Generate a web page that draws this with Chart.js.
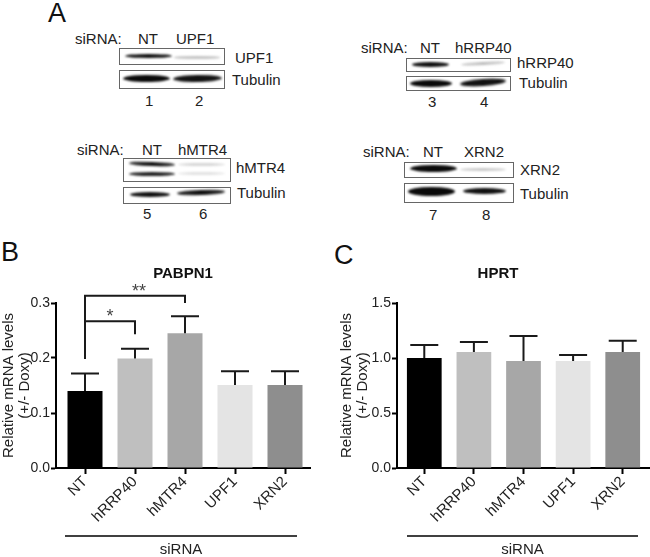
<!DOCTYPE html>
<html>
<head>
<meta charset="utf-8">
<script src="https://cdn.jsdelivr.net/npm/chart.js@4.4.0/dist/chart.umd.min.js"></script>
<style>
body { margin: 0; background: #fff; font-family: 'Liberation Sans', Arial, sans-serif; color: #222; }
#fig { position: relative; width: 650px; height: 557px; overflow: hidden; }
.t { position: absolute; white-space: nowrap; font-size: 15px; line-height: 15px; }
.big { position: absolute; font-size: 27px; line-height: 27px; color: #111; }
.box { position: absolute; border: 1px solid #666; background: #fff; box-sizing: border-box; }
.band { position: absolute; border-radius: 50%; filter: blur(0.8px); }
canvas { position: absolute; top: 255px; }
</style>
</head>
<body>
<div id="fig">
  <div class="big" style="left:48px;top:0px">A</div>
  <div class="big" style="left:1px;top:239px">B</div>
  <div class="big" style="left:334px;top:242px">C</div>

  <!-- blot 1 : UPF1 -->
  <div class="t" style="left:75px;top:31px">siRNA:</div>
  <div class="t" style="left:138px;top:31px">NT</div>
  <div class="t" style="left:176px;top:31px">UPF1</div>
  <div class="box" style="left:119px;top:48px;width:106px;height:17px"></div>
  <div class="box" style="left:119px;top:70px;width:106px;height:19px"></div>
  <div class="t" style="left:235px;top:50px">UPF1</div>
  <div class="t" style="left:232px;top:72px">Tubulin</div>
  <div class="t" style="left:145px;top:93px">1</div>
  <div class="t" style="left:195px;top:93px">2</div>

  <!-- blot 2 : hRRP40 -->
  <div class="t" style="left:361px;top:40px">siRNA:</div>
  <div class="t" style="left:420px;top:40px">NT</div>
  <div class="t" style="left:455px;top:40px">hRRP40</div>
  <div class="box" style="left:406px;top:58px;width:105px;height:14px"></div>
  <div class="box" style="left:406px;top:76px;width:105px;height:15px"></div>
  <div class="t" style="left:517px;top:55px">hRRP40</div>
  <div class="t" style="left:519px;top:75px">Tubulin</div>
  <div class="t" style="left:428px;top:94px">3</div>
  <div class="t" style="left:480px;top:94px">4</div>

  <!-- blot 3 : hMTR4 -->
  <div class="t" style="left:77px;top:142px">siRNA:</div>
  <div class="t" style="left:142px;top:142px">NT</div>
  <div class="t" style="left:178px;top:142px">hMTR4</div>
  <div class="box" style="left:123px;top:158px;width:108px;height:24px"></div>
  <div class="box" style="left:123px;top:187px;width:108px;height:17px"></div>
  <div class="t" style="left:236px;top:160px">hMTR4</div>
  <div class="t" style="left:237px;top:185px">Tubulin</div>
  <div class="t" style="left:143px;top:206px">5</div>
  <div class="t" style="left:199px;top:206px">6</div>

  <!-- blot 4 : XRN2 -->
  <div class="t" style="left:363px;top:144px">siRNA:</div>
  <div class="t" style="left:423px;top:144px">NT</div>
  <div class="t" style="left:464px;top:144px">XRN2</div>
  <div class="box" style="left:404px;top:162px;width:110px;height:16px"></div>
  <div class="box" style="left:404px;top:183px;width:110px;height:20px"></div>
  <div class="t" style="left:520px;top:162px">XRN2</div>
  <div class="t" style="left:520px;top:186px">Tubulin</div>
  <div class="t" style="left:429px;top:207px">7</div>
  <div class="t" style="left:482px;top:207px">8</div>

  <canvas id="chartB" width="325" height="302" style="left:0"></canvas>
  <canvas id="chartC" width="325" height="302" style="left:325px"></canvas>
</div>

<script>
const categories = ['NT', 'hRRP40', 'hMTR4', 'UPF1', 'XRN2'];
const barColors = ['#000000', '#bfbfbf', '#a7a7a7', '#e4e4e4', '#8e8e8e'];

const pabpn1Mean = [0.140, 0.199, 0.245, 0.151, 0.151];
const pabpn1Sem = [0.032, 0.018, 0.031, 0.025, 0.025];
const pabpn1Ticks = [0, 0.1, 0.2, 0.3];
const pabpn1Sig = [
    { from: 0, to: 2, y: 0.313, leftEnd: 0.198, rightEnd: 0.300, label: '**' },
    { from: 0, to: 1, y: 0.267, leftEnd: 0.198, rightEnd: 0.243, label: '*' }
];

const hprtMean = [1.000, 1.055, 0.973, 0.973, 1.055];
const hprtSem = [0.118, 0.090, 0.227, 0.054, 0.102];
const hprtTicks = [0, 0.5, 1.0, 1.5];

// western blot bands: [left, top, width, height, colour, rotation]
const bands = [
    [125, 54, 47, 4, '#111', 0], [174, 56, 46, 2.5, '#c4c4c4', 0],
    [123, 75, 47, 7, '#0a0a0a', 0], [173, 75, 49, 7, '#111', -1],
    [412, 62, 37, 5, '#111', 0], [461, 62, 44, 3, '#bbb', -3],
    [410, 80, 42, 7, '#0a0a0a', 0], [460, 79, 46, 7, '#111', -4],
    [129, 162, 46, 4, '#111', 2], [129, 172, 46, 4, '#222', 0],
    [178, 163, 47, 3, '#d6d6d6', 0], [178, 172, 47, 3, '#e2e2e2', 0],
    [130, 192, 40, 5, '#111', 0], [177, 190, 48, 5, '#111', -2],
    [410, 165, 47, 7, '#0a0a0a', 0], [460, 168, 46, 3, '#c8c8c8', 0],
    [408, 187, 47, 9, '#0a0a0a', 0], [463, 188, 43, 6, '#111', 0]
];
const fig = document.getElementById('fig');
bands.forEach(b => {
    const d = document.createElement('div');
    d.className = 'band';
    d.style.cssText = `left:${b[0]}px;top:${b[1]}px;width:${b[2]}px;height:${b[3]}px;background:${b[4]};transform:rotate(${b[5]}deg)`;
    fig.appendChild(d);
});

Chart.defaults.font.family = "'Liberation Sans', Arial, sans-serif";
Chart.defaults.color = '#222';

function extrasPlugin(cfg) {
    return {
        id: 'extras',
        afterDraw(chart) {
            const ctx = chart.ctx;
            const x = chart.scales.x, y = chart.scales.y;
            const meta = chart.getDatasetMeta(0);
            ctx.save();
            ctx.strokeStyle = '#1a1a1a';
            ctx.lineWidth = 2;
            // error bars (upper only)
            meta.data.forEach((bar, i) => {
                const top = y.getPixelForValue(cfg.mean[i] + cfg.sem[i]);
                ctx.beginPath();
                ctx.moveTo(bar.x, bar.y);
                ctx.lineTo(bar.x, top);
                ctx.moveTo(bar.x - 14, top);
                ctx.lineTo(bar.x + 14, top);
                ctx.stroke();
            });
            // significance brackets
            (cfg.sig || []).forEach(s => {
                const x1 = x.getPixelForValue(s.from), x2 = x.getPixelForValue(s.to);
                const yy = y.getPixelForValue(s.y);
                ctx.beginPath();
                ctx.moveTo(x1, y.getPixelForValue(s.leftEnd));
                ctx.lineTo(x1, yy);
                ctx.lineTo(x2, yy);
                ctx.lineTo(x2, y.getPixelForValue(s.rightEnd));
                ctx.stroke();
                ctx.fillStyle = '#444';
                ctx.font = "18px 'Liberation Sans', Arial";
                ctx.textAlign = 'center';
                ctx.textBaseline = 'alphabetic';
                ctx.fillText(s.label, (x1 + x2) / 2 + (s.label.length > 1 ? 4 : 0), yy + 1);
            });
            // title
            ctx.fillStyle = '#111';
            ctx.font = "bold 15px 'Liberation Sans', Arial";
            ctx.textAlign = 'center';
            ctx.textBaseline = 'middle';
            ctx.fillText(cfg.title, cfg.titleX, 19);
            // siRNA group line
            ctx.lineWidth = 1.5;
            ctx.strokeStyle = '#000';
            ctx.beginPath();
            ctx.moveTo(cfg.lineX[0], 281);
            ctx.lineTo(cfg.lineX[1], 281);
            ctx.stroke();
            ctx.fillStyle = '#222';
            ctx.font = "15px 'Liberation Sans', Arial";
            ctx.fillText('siRNA', (cfg.lineX[0] + cfg.lineX[1]) / 2, 295);
            ctx.restore();
        }
    };
}

function makeChart(id, cfg) {
    new Chart(document.getElementById(id), {
        type: 'bar',
        data: {
            datasets: [{
                data: cfg.mean.map((v, i) => ({ x: i, y: v })),
                backgroundColor: barColors,
                borderWidth: 0,
                barPercentage: 0.7,
                categoryPercentage: 1
            }]
        },
        options: {
            responsive: false,
            animation: false,
            events: [],
            layout: { padding: { top: 48, right: cfg.padRight, left: 0, bottom: 0 } },
            plugins: { legend: { display: false }, tooltip: { enabled: false } },
            scales: {
                x: {
                    type: 'linear',
                    min: cfg.xMin,
                    max: cfg.xMax,
                    offset: false,
                    z: 1,
                    afterBuildTicks: s => { s.ticks = categories.map((c, i) => ({ value: i })); },
                    afterFit: s => { s.height = 89; },
                    ticks: {
                        autoSkip: false,
                        minRotation: 45,
                        maxRotation: 45,
                        padding: -1,
                        font: { size: 15 },
                        color: '#222',
                        callback: v => categories[v]
                    },
                    grid: { display: true, drawOnChartArea: false, drawTicks: true, tickLength: 6, tickColor: '#000', tickWidth: 2, offset: false },
                    border: { display: true, color: '#000', width: 2 }
                },
                y: {
                    min: 0,
                    max: cfg.ticks[cfg.ticks.length - 1],
                    z: 1,
                    afterBuildTicks: s => { s.ticks = cfg.ticks.map(v => ({ value: v })); },
                    afterFit: s => { s.width = cfg.yWidth; },
                    ticks: {
                        padding: 1,
                        font: { size: 14 },
                        color: '#222',
                        callback: v => v.toFixed(1)
                    },
                    grid: { display: true, drawOnChartArea: false, drawTicks: true, tickLength: 5, tickColor: '#000', tickWidth: 2 },
                    border: { display: true, color: '#000', width: 2 },
                    title: {
                        display: true,
                        text: ['Relative mRNA levels', '(+/- Doxy)'],
                        font: { size: 15, lineHeight: 1.05 },
                        color: '#222',
                        padding: { top: cfg.titlePad, bottom: 0 }
                    }
                }
            }
        },
        plugins: [extrasPlugin(cfg)]
    });
}

makeChart('chartB', {
    mean: pabpn1Mean, sem: pabpn1Sem, ticks: pabpn1Ticks, sig: pabpn1Sig,
    title: 'PABPN1', titleX: 183, lineX: [65, 297],
    xMin: -0.58, xMax: 4.5, padRight: 15, yWidth: 56, titlePad: 1
});
makeChart('chartC', {
    mean: hprtMean, sem: hprtSem, ticks: hprtTicks, sig: [],
    title: 'HPRT', titleX: 173, lineX: [82, 313],
    xMin: -0.55, xMax: 4.55, padRight: 0, yWidth: 72, titlePad: 14
});
</script>
</body>
</html>
